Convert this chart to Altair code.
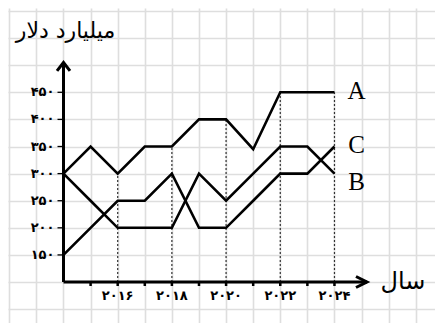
import altair as alt
import pandas as pd

# ---- data ----
years = list(range(2014, 2025))
series_a = [300, 350, 300, 350, 350, 400, 400, 345, 450, 450, 450]
series_b = [300, 250, 200, 200, 200, 300, 250, 300, 350, 350, 300]
series_c = [150, 200, 250, 250, 300, 200, 200, 250, 300, 300, 350]
series_names = ["A", "B", "C"]

y_tick_values = [150, 200, 250, 300, 350, 400, 450]
y_tick_labels = ["۱۵۰", "۲۰۰", "۲۵۰", "۳۰۰", "۳۵۰", "۴۰۰", "۴۵۰"]
x_tick_years = list(range(2015, 2025))
x_label_years = [2016, 2018, 2020, 2022, 2024]
x_tick_labels = ["۲۰۱۶", "۲۰۱۸", "۲۰۲۰", "۲۰۲۲", "۲۰۲۴"]
y_title = "میلیارد دلار"
x_title = "سال"

axis_base = 100
x_axis_end = 2025.2
y_axis_end = 505
grid_years = list(range(2012, 2029))
grid_values = list(range(0, 651, 50))

# ---- tables ----
lines_df = pd.DataFrame(
    [{"year": y, "value": v, "series": n}
     for n, vals in zip(series_names, [series_a, series_b, series_c])
     for y, v in zip(years, vals)]
)
ends_df = lines_df[lines_df["year"] == years[-1]]
a_by_year = dict(zip(years, series_a))
dash_df = pd.DataFrame({"year": x_label_years,
                        "base": [axis_base] * len(x_label_years),
                        "top": [a_by_year[y] for y in x_label_years]})
ytick_df = pd.DataFrame({"year": [years[0]] * len(y_tick_values),
                         "value": y_tick_values, "label": y_tick_labels})
xtick_df = pd.DataFrame({"year": x_tick_years, "value": [axis_base] * len(x_tick_years)})
xlab_df = pd.DataFrame({"year": x_label_years, "value": [axis_base] * len(x_label_years),
                        "label": x_tick_labels})
axes_df = pd.DataFrame({"x1": [years[0], years[0]], "y1": [axis_base, axis_base],
                        "x2": [x_axis_end, years[0]], "y2": [axis_base, y_axis_end]})
xarrow_df = pd.DataFrame({"year": [x_axis_end], "value": [axis_base], "label": [x_title]})
yarrow_df = pd.DataFrame({"year": [years[0]], "value": [y_axis_end], "label": [y_title]})

# plot area: page x 8..435, y 8..323 (no overflow)
xscale = alt.Scale(domain=[2011.952, 2027.71], nice=False, zero=False)
yscale = alt.Scale(domain=[24.4, 605.5], nice=False, zero=False)
xaxis = alt.Axis(values=grid_years, grid=True, labels=False, ticks=False, domain=False,
                 title=None, gridColor="#dedede", gridWidth=1.6)
yaxis = alt.Axis(values=grid_values, grid=True, labels=False, ticks=False, domain=False,
                 title=None, gridColor="#dedede", gridWidth=1.6)


def X(field):
    return alt.X(field, type="quantitative", scale=xscale, axis=xaxis)


def Y(field):
    return alt.Y(field, type="quantitative", scale=yscale, axis=yaxis)


persian_font = "DejaVu Sans"

dashes = alt.Chart(dash_df).mark_rule(color="#333", strokeWidth=1.2, strokeDash=[2, 2]).encode(
    x=X("year"), y=Y("base"), y2="top")

axis_lines = alt.Chart(axes_df).mark_rule(color="black", strokeWidth=3).encode(
    x=X("x1"), y=Y("y1"), x2="x2", y2="y2")

x_arrow = alt.Chart(xarrow_df).mark_point(shape="M-2,-1L0,0L-2,1", size=121, filled=False,
                                          color="black", strokeWidth=3, opacity=1).encode(
    x=X("year"), y=Y("value"))
y_arrow = alt.Chart(yarrow_df).mark_point(shape="M-1,1.3L0,0L1,1.3", size=169, filled=False,
                                          color="black", strokeWidth=3, opacity=1).encode(
    x=X("year"), y=Y("value"))

x_title_t = alt.Chart(xarrow_df).mark_text(font=persian_font, fontSize=24, dx=36, dy=0,
                                           align="center", baseline="middle", color="black").encode(
    x=X("year"), y=Y("value"), text="label")
y_title_t = alt.Chart(yarrow_df).mark_text(font=persian_font, fontSize=22, dx=2, dy=-31,
                                           align="center", baseline="middle", color="black").encode(
    x=X("year"), y=Y("value"), text="label")

yticks = alt.Chart(ytick_df).mark_point(shape="M-1,0L0,0", size=144, filled=False,
                                        color="black", strokeWidth=1.3, opacity=1).encode(
    x=X("year"), y=Y("value"))
ylabels = alt.Chart(ytick_df).mark_text(font=persian_font, fontSize=13, fontWeight="bold",
                                        dx=-9, align="right", baseline="middle", color="black").encode(
    x=X("year"), y=Y("value"), text="label")

xticks = alt.Chart(xtick_df).mark_point(shape="M0,0L0,1", size=64, filled=False,
                                        color="black", strokeWidth=2.5, opacity=1).encode(
    x=X("year"), y=Y("value"))
xlabels = alt.Chart(xlab_df).mark_text(font=persian_font, fontSize=13, fontWeight="bold",
                                       dy=14, align="center", baseline="middle", color="black").encode(
    x=X("year"), y=Y("value"), text="label")

lines = alt.Chart(lines_df).mark_line(color="black", strokeWidth=2.6).encode(
    x=X("year"), y=Y("value"), detail="series:N", order="year:Q")

label_offsets = {"A": -1, "B": 8, "C": -2}
end_labels = [
    alt.Chart(ends_df[ends_df["series"] == n]).mark_text(
        font="Liberation Serif", fontSize=25, dx=22, dy=label_offsets[n],
        align="center", baseline="middle", color="black").encode(
        x=X("year"), y=Y("value"), text="series:N")
    for n in series_names
]

chart = alt.layer(dashes, lines, axis_lines, x_arrow, y_arrow, yticks, xticks,
                  ylabels, xlabels, x_title_t, y_title_t, *end_labels).properties(
    width=427, height=315, padding=0, autosize=alt.AutoSizeParams(type="none"),
    background="white"
).configure_view(stroke=None)

chart.save("out.html", embed_options={"renderer": "svg", "actions": False})
